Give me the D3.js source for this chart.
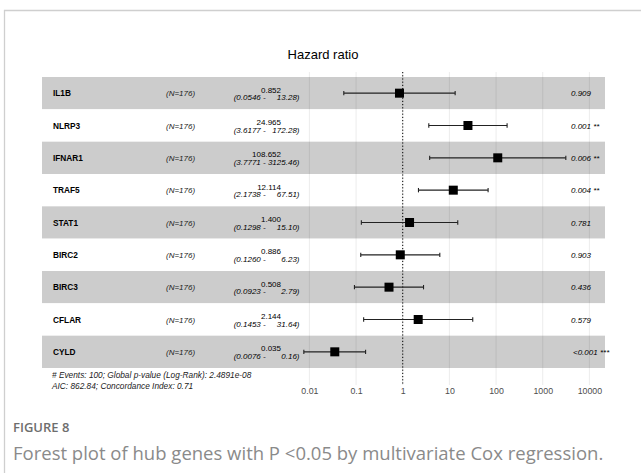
<!DOCTYPE html>
<html>
<head>
<meta charset="utf-8">
<script src="https://cdn.jsdelivr.net/npm/d3@7"></script>
<style>
  body { margin: 0; background: #fff; }
  svg text { font-family: "Liberation Sans", Arial, sans-serif; }
  svg text.caption { font-family: "Open Sans", sans-serif; }
</style>
</head>
<body>
<div id="chart"></div>
<script>
var svgWidth = 641;
var svgHeight = 476;

// data
var genes = ["IL1B", "NLRP3", "IFNAR1", "TRAF5", "STAT1", "BIRC2", "BIRC3", "CFLAR", "CYLD"];
var hr = [0.852, 24.965, 108.652, 12.114, 1.400, 0.886, 0.508, 2.144, 0.035];
var ciLow = [0.0546, 3.6177, 3.7771, 2.1738, 0.1298, 0.1260, 0.0923, 0.1453, 0.0076];
var ciHigh = [13.28, 172.28, 3125.46, 67.51, 15.10, 6.23, 2.79, 31.64, 0.16];
var pLabels = ["0.909", "0.001 **", "0.006 **", "0.004 **", "0.781", "0.903", "0.436", "0.579", "<0.001 ***"];
var nLabel = "(N=176)";
var xTicks = [0.01, 0.1, 1, 10, 100, 1000, 10000];
var footer = ["# Events: 100; Global p-value (Log-Rank): 2.4891e-08",
              "AIC: 862.84; Concordance Index: 0.71"];

var rows = genes.map(function(g, i) {
  return { gene: g, hr: hr[i], low: ciLow[i], high: ciHigh[i], p: pLabels[i], i: i };
});

// pad the upper bound with figure spaces so every CI line has the same width
var FS = "\u2007";
var hiWidth = d3.max(ciHigh, v => v.toFixed(2).length);
function ciText(d) {
  var hi = d.high.toFixed(2);
  return "(" + d.low.toFixed(4) + " - " + FS.repeat(hiWidth - hi.length) + hi + ")";
}

var svg = d3.select("#chart")
  .append("svg")
  .attr("width", svgWidth)
  .attr("height", svgHeight);

svg.append("rect")
  .attr("width", svgWidth)
  .attr("height", svgHeight)
  .attr("fill", "#fff");

// frame round the figure
svg.append("path")
  .attr("d", "M4.5,473 V10.5 H650")
  .attr("fill", "none")
  .attr("stroke", "#cfcfcf")
  .attr("stroke-width", 1.3);

// scales
var x = d3.scaleLog()
  .domain([0.01, 10000])
  .range([309.4, 589.4]);

var y = d3.scaleBand()
  .domain(genes)
  .range([77, 368]);

var bandLeft = 42, bandRight = 605;
var gridTop = 72, gridBottom = 385;

// row bands
svg.append("g").selectAll("rect")
  .data(rows)
  .enter()
  .append("rect")
  .attr("x", bandLeft)
  .attr("y", d => y(d.gene))
  .attr("width", bandRight - bandLeft)
  .attr("height", y.bandwidth())
  .attr("fill", d => d.i % 2 === 0 ? "#cccccc" : "#ffffff");

// grid lines
svg.append("g").selectAll("line")
  .data(xTicks)
  .enter()
  .append("line")
  .attr("x1", d => x(d))
  .attr("x2", d => x(d))
  .attr("y1", gridTop)
  .attr("y2", gridBottom)
  .attr("stroke", "#000")
  .attr("stroke-opacity", 0.08)
  .attr("stroke-width", 1);

// x axis labels
var xAxis = d3.axisBottom(x)
  .tickValues(xTicks)
  .tickFormat(d => String(d))
  .tickSize(0)
  .tickPadding(0);

var axisG = svg.append("g")
  .attr("transform", `translate(0, ${gridBottom + 3})`)
  .call(xAxis);
axisG.select(".domain").remove();
axisG.selectAll("text")
  .attr("font-size", 8.8)
  .attr("fill", "#4d4d4d")
  .attr("dy", "0.71em");

// reference line at HR = 1
svg.append("line")
  .attr("x1", x(1))
  .attr("x2", x(1))
  .attr("y1", gridTop)
  .attr("y2", gridBottom)
  .attr("stroke", "#000")
  .attr("stroke-width", 1)
  .attr("stroke-dasharray", "1.2,2");

// title
svg.append("text")
  .attr("x", 323)
  .attr("y", 59)
  .attr("text-anchor", "middle")
  .attr("font-size", 13)
  .attr("fill", "#000")
  .text("Hazard ratio");

var mid = d => y(d.gene) + y.bandwidth() / 2;

// whiskers
var ci = svg.append("g").selectAll("g")
  .data(rows)
  .enter()
  .append("g")
  .attr("stroke", "#222")
  .attr("stroke-width", 1.1);

ci.append("line")
  .attr("x1", d => x(d.low))
  .attr("x2", d => x(d.high))
  .attr("y1", mid)
  .attr("y2", mid);

ci.append("line")
  .attr("x1", d => x(d.low))
  .attr("x2", d => x(d.low))
  .attr("y1", d => mid(d) - 2.2)
  .attr("y2", d => mid(d) + 2.2);

ci.append("line")
  .attr("x1", d => x(d.high))
  .attr("x2", d => x(d.high))
  .attr("y1", d => mid(d) - 2.2)
  .attr("y2", d => mid(d) + 2.2);

// point estimates
var sq = 9;
svg.append("g").selectAll("rect")
  .data(rows)
  .enter()
  .append("rect")
  .attr("x", d => x(d.hr) - sq / 2)
  .attr("y", d => mid(d) - sq / 2)
  .attr("width", sq)
  .attr("height", sq)
  .attr("fill", "#000");

// table text
var txt = svg.append("g").attr("font-size", 8).attr("fill", "#000");

txt.selectAll(".gene")
  .data(rows)
  .enter()
  .append("text")
  .attr("class", "gene")
  .attr("x", 53)
  .attr("y", d => mid(d) + 3)
  .attr("font-size", 8.3)
  .attr("font-weight", "bold")
  .text(d => d.gene);

txt.selectAll(".n")
  .data(rows)
  .enter()
  .append("text")
  .attr("class", "n")
  .attr("x", 166)
  .attr("y", d => mid(d) + 3)
  .attr("font-style", "italic")
  .attr("fill", "#222")
  .text(nLabel);

txt.selectAll(".est")
  .data(rows)
  .enter()
  .append("text")
  .attr("class", "est")
  .attr("x", 281)
  .attr("y", d => mid(d) - 0.5)
  .attr("text-anchor", "end")
  .text(d => d.hr.toFixed(3));

txt.selectAll(".ci")
  .data(rows)
  .enter()
  .append("text")
  .attr("class", "ci")
  .attr("x", 299.5)
  .attr("y", d => mid(d) + 7.3)
  .attr("text-anchor", "end")
  .attr("font-style", "italic")
  .style("white-space", "pre")
  .text(ciText);

txt.selectAll(".pv")
  .data(rows)
  .enter()
  .append("text")
  .attr("class", "pv")
  .attr("x", d => d.p.charAt(0) === "<" ? 573 : 571)
  .attr("y", d => mid(d) + 3)
  .attr("font-style", "italic")
  .text(d => d.p);

// footer
svg.append("g").selectAll("text")
  .data(footer)
  .enter()
  .append("text")
  .attr("x", 52)
  .attr("y", (d, i) => 377.5 + i * 11.8)
  .attr("font-size", 8.3)
  .attr("font-style", "italic")
  .attr("fill", "#222")
  .text(d => d);

// caption
svg.append("text")
  .attr("class", "caption")
  .attr("x", 13)
  .attr("y", 432)
  .attr("font-size", 13)
  .attr("font-weight", 600)
  .attr("fill", "#6e6e6e")
  .text("FIGURE 8");

svg.append("text")
  .attr("class", "caption")
  .attr("x", 13)
  .attr("y", 459.5)
  .attr("font-size", 18.5)
  .attr("fill", "#8a8a8a")
  .text("Forest plot of hub genes with P <0.05 by multivariate Cox regression.");
</script>
</body>
</html>
